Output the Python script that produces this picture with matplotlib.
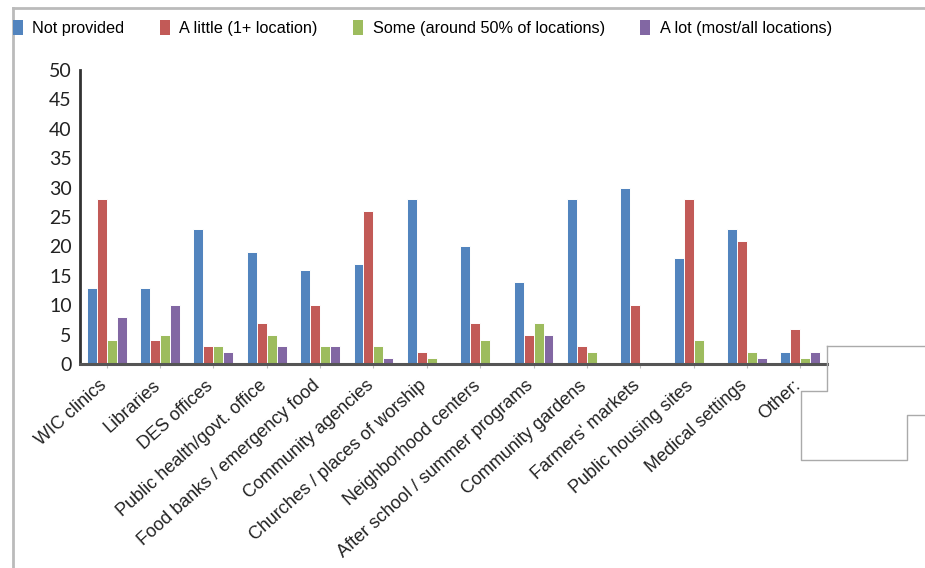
import matplotlib
matplotlib.use("Agg")
import matplotlib.pyplot as plt
from matplotlib.patches import Rectangle
from matplotlib.lines import Line2D
from matplotlib.transforms import ScaledTranslation
import numpy as np

categories = [
    "WIC clinics", "Libraries", "DES offices", "Public health/govt. office",
    "Food banks / emergency food", "Community agencies",
    "Churches / places of worship", "Neighborhood centers",
    "After school / summer programs", "Community gardens",
    "Farmers' markets", "Public housing sites", "Medical settings", "Other:",
]
series_names = [
    "Not provided", "A little (1+ location)",
    "Some (around 50% of locations)", "A lot (most/all locations)",
]
not_provided = [13, 13, 23, 19, 16, 17, 28, 20, 14, 28, 30, 18, 23, 2]
a_little = [28, 4, 3, 7, 10, 26, 2, 7, 5, 3, 10, 28, 21, 6]
some = [4, 5, 3, 5, 3, 3, 1, 4, 7, 2, 0, 4, 2, 1]
a_lot = [8, 10, 2, 3, 3, 1, 0, 0, 5, 0, 0, 0, 1, 2]
y_ticks = [0, 5, 10, 15, 20, 25, 30, 35, 40, 45, 50]

colors = ["#5284BE", "#C25A57", "#9DBC5E", "#8267A3"]
series = [not_provided, a_little, some, a_lot]

plt.rcParams["font.family"] = ["Liberation Sans", "DejaVu Sans"]

W, H = 925, 568
fig = plt.figure(figsize=(W / 100, H / 100), dpi=100)

def fx(px):
    return px / W

def fy(py):
    return 1 - py / H

ax = fig.add_axes([fx(80), fy(364), fx(827) - fx(80), fy(70) - fy(364)])

x = np.arange(len(categories))
bw = 0.187
for i, (vals, c) in enumerate(zip(series, colors)):
    ax.bar(x + (i - 1.5) * bw, vals, width=bw, color=c,
           edgecolor="white", linewidth=0.7, zorder=2)

ax.set_xlim(-0.5, len(categories) - 0.5)
ax.set_ylim(0, 50)
ax.set_yticks(y_ticks)
ax.set_yticklabels([str(t) for t in y_ticks], fontsize=14,
                   family=["Lato", "DejaVu Sans"])
ax.tick_params(axis="y", length=0, pad=6, colors="#222222")
ax.set_xticks(x)
ax.set_xticklabels(categories, rotation=42, ha="right", va="top",
                   rotation_mode="anchor", fontsize=13, color="#222222")
ax.tick_params(axis="x", length=3, width=0.8, color="#BBBBBB", pad=5)
shift = ScaledTranslation(-8 / 100, -2 / 100, fig.dpi_scale_trans)
for lbl in ax.get_xticklabels():
    lbl.set_transform(lbl.get_transform() + shift)

for side in ["top", "right"]:
    ax.spines[side].set_visible(False)
ax.spines["left"].set_color("#333333")
ax.spines["left"].set_linewidth(2)
ax.spines["bottom"].set_color("#555555")
ax.spines["bottom"].set_linewidth(2.2)
ax.set_facecolor("none")

# Legend row along the top
handles = [Rectangle((0, 0), 1, 1, facecolor=c, edgecolor="none") for c in colors]
fig.legend(handles, series_names, loc="center left",
           bbox_to_anchor=(fx(13), fy(28)), ncol=4, frameon=False,
           fontsize=11.7, handlelength=0.6, handleheight=1.0,
           handletextpad=0.58, columnspacing=2.2, borderaxespad=0,
           borderpad=0)

# Frame lines
border = "#BBBBBB"
fig.add_artist(Line2D([fx(13), fx(13)], [fy(8), fy(568)], color=border, lw=2))
fig.add_artist(Line2D([fx(13), fx(925)], [fy(8), fy(8)], color=border, lw=2))

# Outline box at lower right
box_x = [827, 827, 801, 801, 907, 907, 925]
box_y = [346, 391, 391, 460, 460, 415, 415]
fig.add_artist(Line2D([fx(v) for v in box_x], [fy(v) for v in box_y],
                      color="#AAAAAA", lw=1))
fig.add_artist(Line2D([fx(827), fx(925)], [fy(346), fy(346)],
                      color="#AAAAAA", lw=1))

fig.savefig("out.png", dpi=100)
